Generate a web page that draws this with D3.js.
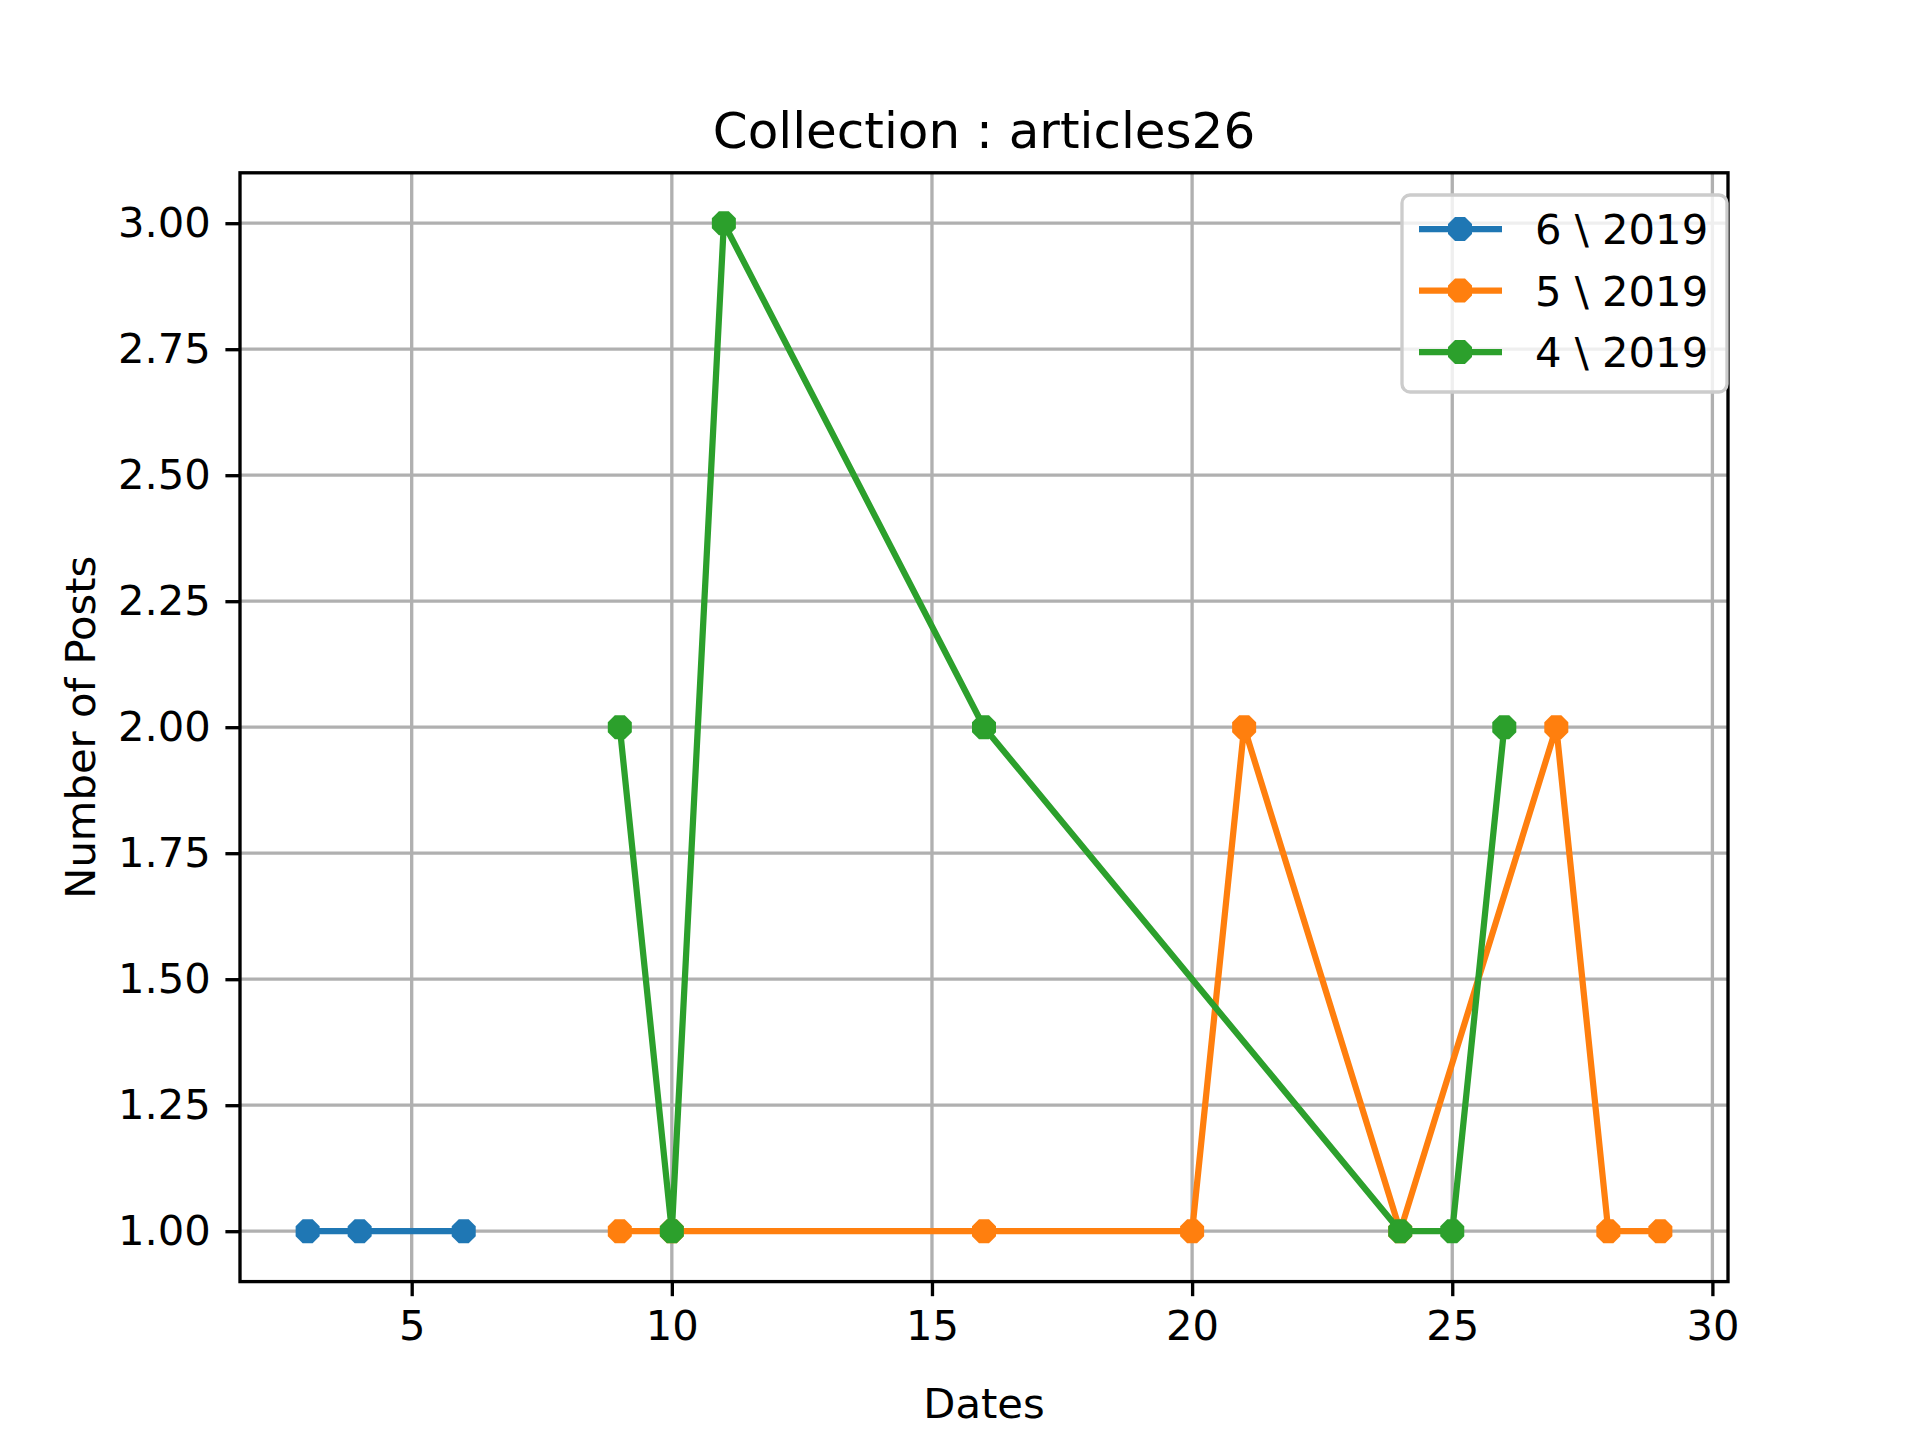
<!DOCTYPE html>
<html>
<head>
<meta charset="utf-8">
<script src="https://cdn.jsdelivr.net/npm/d3@7"></script>
<style>
  body { margin: 0; background: #fff; }
  text { font-family: "DejaVu Sans", sans-serif; fill: #000; }
</style>
</head>
<body>
<script>
// series data
let junDays = [3, 4, 6];
let junPosts = [1, 1, 1];
let mayDays = [9, 10, 16, 20, 21, 24, 27, 28, 29];
let mayPosts = [1, 1, 1, 1, 2, 1, 2, 1, 1];
let aprDays = [9, 10, 11, 16, 24, 25, 26];
let aprPosts = [2, 1, 3, 2, 1, 1, 2];
let seriesNames = ["6 \\ 2019", "5 \\ 2019", "4 \\ 2019"];
let seriesColors = ["#1f77b4", "#ff7f0e", "#2ca02c"];
let xTicks = [5, 10, 15, 20, 25, 30];
let yTicks = [1.00, 1.25, 1.50, 1.75, 2.00, 2.25, 2.50, 2.75, 3.00];

let svgWidth = 1920, svgHeight = 1440;
let svg = d3.select("body").append("svg")
    .attr("width", svgWidth).attr("height", svgHeight);

let plotLeft = 240, plotRight = 1728, plotTop = 172.8, plotBottom = 1281.6;

let x = d3.scaleLinear().domain([1.7, 30.3]).range([plotLeft, plotRight]);
let y = d3.scaleLinear().domain([0.9, 3.1]).range([plotBottom, plotTop]);

// grid
svg.append("g").selectAll("line").data(xTicks).enter().append("line")
    .attr("x1", d => x(d)).attr("x2", d => x(d)).attr("y1", plotTop).attr("y2", plotBottom)
    .attr("stroke", "#b0b0b0").attr("stroke-width", 3.33);
svg.append("g").selectAll("line").data(yTicks).enter().append("line")
    .attr("y1", d => y(d)).attr("y2", d => y(d)).attr("x1", plotLeft).attr("x2", plotRight)
    .attr("stroke", "#b0b0b0").attr("stroke-width", 3.33);

// axes
let xAxis = svg.append("g").attr("transform", `translate(0,${plotBottom})`)
    .call(d3.axisBottom(x).tickValues(xTicks).tickSize(14.6).tickPadding(14.6));
let yAxis = svg.append("g").attr("transform", `translate(${plotLeft},0)`)
    .call(d3.axisLeft(y).tickValues(yTicks).tickFormat(d3.format(".2f")).tickSize(14.6).tickPadding(14.6));
[xAxis, yAxis].forEach(a => {
    a.select(".domain").remove();
    a.selectAll(".tick line").attr("stroke", "#000").attr("stroke-width", 3.33);
    a.selectAll(".tick text").style("font-size", "41.7px").style("font-family", "DejaVu Sans");
});

let series = [
    { days: junDays, posts: junPosts },
    { days: mayDays, posts: mayPosts },
    { days: aprDays, posts: aprPosts }
];

let octagon = (cx, cy, r) => {
    let pts = [];
    for (let i = 0; i < 8; i++) {
        let a = Math.PI / 8 + i * Math.PI / 4;
        pts.push([cx + r * Math.cos(a), cy + r * Math.sin(a)]);
    }
    return pts.map(p => p.join(",")).join(" ");
};

let line = d3.line().x(d => x(d[0])).y(d => y(d[1]));
series.forEach((s, i) => {
    let pts = s.days.map((d, j) => [d, s.posts[j]]);
    let g = svg.append("g");
    g.append("path").datum(pts).attr("d", line)
        .attr("fill", "none").attr("stroke", seriesColors[i])
        .attr("stroke-width", 6.25).attr("stroke-linejoin", "round").attr("stroke-linecap", "square");
    g.selectAll("polygon").data(pts).enter().append("polygon")
        .attr("points", d => octagon(x(d[0]), y(d[1]), 13))
        .attr("fill", seriesColors[i]);
});

// frame
svg.append("rect").attr("x", plotLeft).attr("y", plotTop)
    .attr("width", plotRight - plotLeft).attr("height", plotBottom - plotTop)
    .attr("fill", "none").attr("stroke", "#000").attr("stroke-width", 3.33);

// title & labels
svg.append("text").attr("x", (plotLeft + plotRight) / 2).attr("y", plotTop - 25)
    .attr("text-anchor", "middle").style("font-size", "50px").text("Collection : articles26");
svg.append("text").attr("x", (plotLeft + plotRight) / 2).attr("y", 1418)
    .attr("text-anchor", "middle").style("font-size", "41.7px").text("Dates");
svg.append("text").attr("transform", `translate(95,${(plotTop + plotBottom) / 2}) rotate(-90)`)
    .attr("text-anchor", "middle").style("font-size", "41.7px").text("Number of Posts");

// legend
let lx = 1402, ly = 195, lw = 325, lh = 197;
svg.append("rect").attr("x", lx).attr("y", ly).attr("width", lw).attr("height", lh)
    .attr("rx", 8).attr("fill", "#fff").attr("fill-opacity", 0.8)
    .attr("stroke", "#cccccc").attr("stroke-width", 3.33);
seriesNames.forEach((name, i) => {
    let cy = ly + 34 + i * 61.5;
    svg.append("line").attr("x1", lx + 17).attr("x2", lx + 100).attr("y1", cy).attr("y2", cy)
        .attr("stroke", seriesColors[i]).attr("stroke-width", 6.25);
    svg.append("polygon").attr("points", octagon(lx + 58, cy, 13)).attr("fill", seriesColors[i]);
    svg.append("text").attr("x", lx + 133).attr("y", cy + 15)
        .style("font-size", "41.7px").text(name);
});
</script>
</body>
</html>
